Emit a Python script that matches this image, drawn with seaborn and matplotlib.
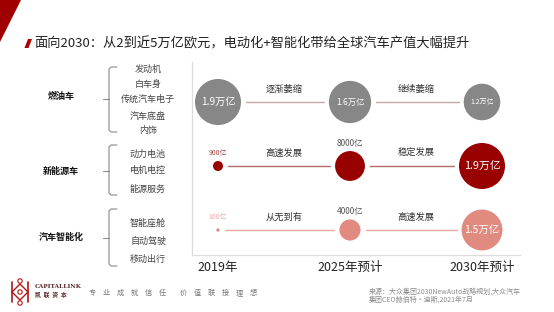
import matplotlib
matplotlib.use("Agg")
import numpy as np
import pandas as pd
import seaborn as sns
import matplotlib.pyplot as plt
from matplotlib.patches import Polygon

# ---------------- data ----------------
years = ["2019年", "2025年预计", "2030年预计"]
segments = ["燃油车", "新能源车", "汽车智能化"]
sub_items = [
    ["发动机", "白车身", "传统汽车电子", "汽车底盘", "内饰"],
    ["动力电池", "电机电控", "能源服务"],
    ["智能座舱", "自动驾驶", "移动出行"],
]
# output value, in 万亿欧元
ice_values = [1.9, 1.6, 1.2]
nev_values = [0.09, 0.8, 1.9]
smart_values = [0.01, 0.4, 1.5]
ice_labels = ["1.9万亿", "1.6万亿", "1.2万亿"]
nev_labels = ["900亿", "8000亿", "1.9万亿"]
smart_labels = ["100亿", "4000亿", "1.5万亿"]
ice_trends = ["逐渐萎缩", "继续萎缩"]
nev_trends = ["高速发展", "稳定发展"]
smart_trends = ["从无到有", "高速发展"]
title = "面向2030：从2到近5万亿欧元，电动化+智能化带给全球汽车产值大幅提升"
source_lines = ["来源：大众集团2030NewAuto战略规划,大众汽车", "集团CEO赫伯特·迪斯,2021年7月"]
slogan = ["专业成就信任", "价值联接理想"]

all_values = [ice_values, nev_values, smart_values]
all_labels = [ice_labels, nev_labels, smart_labels]
all_trends = [ice_trends, nev_trends, smart_trends]

rows = []
for r, seg in enumerate(segments):
    for c, yr in enumerate(years):
        rows.append(dict(year=c, seg=r, segname=seg, value=all_values[r][c], label=all_labels[r][c]))
df = pd.DataFrame(rows)

# ---------------- style ----------------
row_colors = ["#878787", "#990000", "#e08a80"]
line_colors = ["#c4a8a8", "#b46a6a", "#e6aaa2"]
above_colors = ["#555555", "#a04848", "#e8a8a8"]
inner_fs = [[7.3, 6.0, 5.0], [7.5, 7.5, 7.8], [7.5, 7.5, 7.5]]

sns.set_theme(style="white")
plt.rcParams["font.family"] = ["Noto Sans CJK SC", "DejaVu Sans"]

W, H, DPI = 554, 312, 100
fig = plt.figure(figsize=(W / DPI, H / DPI), dpi=DPI)
fig.patch.set_facecolor("white")

# overlay in pixel coordinates for decorative text
ov = fig.add_axes([0, 0, 1, 1])
ov.set_xlim(0, W)
ov.set_ylim(H, 0)
ov.axis("off")
ov.patch.set_alpha(0)

# main data axes: pixel box x 192..520, y 62..255
ax = fig.add_axes([192 / W, (H - 255) / H, 328 / W, 193 / H])
PXX, PXY = 132.0, 64.0
x0px, y0px = 218.0, 102.0
ax.set_xlim((192 - x0px) / PXX, (520 - x0px) / PXX)
ax.set_ylim((255 - y0px) / PXY, (62 - y0px) / PXY)
ax.patch.set_alpha(0)

SMAX = 578 * 1.9  # area (pt^2) for 1.9万亿
sns.scatterplot(data=df, x="year", y="seg", size="value", sizes=(0, SMAX), size_norm=(0, 1.9),
                hue="segname", palette=row_colors, linewidth=0, legend=False, ax=ax, zorder=3)

def radius_px(v):
    return 16.7 * np.sqrt(v)

for r in range(3):
    vals = all_values[r]
    for c in range(2):
        xs = c + (radius_px(vals[c]) + 5) / PXX
        xe = c + 1 - (radius_px(vals[c + 1]) + 5) / PXX
        ax.plot([xs, xe], [r, r], color=line_colors[r], lw=1.0, zorder=2)
        ax.annotate(all_trends[r][c], (c + 0.5, r), xytext=(0, 13), textcoords="offset pixels",
                    ha="center", va="center", fontsize=6.7, color="#333333")
    for c in range(3):
        v = vals[c]
        if v >= 1.0:
            ax.annotate(all_labels[r][c], (c, r), ha="center", va="center",
                        fontsize=inner_fs[r][c], color="white", zorder=4)
        else:
            off = max(radius_px(v) + 8, 13)
            col = above_colors[r] if c == 0 else "#555555"
            fs = 5.0 if c == 0 else 6.0
            ax.annotate(all_labels[r][c], (c, r), xytext=(0, off), textcoords="offset pixels",
                        ha="center", va="center", fontsize=fs, color=col)

ax.set_xticks(range(3))
ax.set_xticklabels(years, fontsize=9.0, color="#222222")
ax.set_yticks([])
ax.tick_params(axis="x", length=0, pad=4.5)
ax.set_xlabel("")
ax.set_ylabel("")
for s in ["top", "right"]:
    ax.spines[s].set_visible(False)
for s in ["left", "bottom"]:
    ax.spines[s].set_color("#dcdcdc")
    ax.spines[s].set_linewidth(0.9)

# ---------------- decorations ----------------
ov.add_patch(Polygon([(0, 0), (21, 0), (0, 42)], closed=True, color="#a00000", lw=0))
ov.add_patch(Polygon([(28, 39), (32, 39), (28.5, 48), (24.5, 48)], closed=True, color="#b00000", lw=0))
ov.text(34, 44, title, fontsize=9.5, color="#222222", ha="left", va="center")

cat_y = [96, 171, 237]
item_y = [[69, 84, 99, 116, 131], [154, 171, 189], [223, 241, 259]]
brace = [(67, 132, 99), (145, 195, 171), (209, 266, 238)]
for i, seg in enumerate(segments):
    ov.text(61, cat_y[i], seg, fontsize=6.5, fontweight="bold", color="#111111", ha="center", va="center")
    for t, yy in zip(sub_items[i], item_y[i]):
        ov.text(148, yy, t, fontsize=6.5, color="#444444", ha="center", va="center")
    top, bot, tip = brace[i]
    ov.plot([117, 111, 109, 109, 111, 117], [top, top, top + 2, bot - 2, bot, bot], color="#8a8a8a", lw=0.8)
    ov.plot([109, 103], [tip, tip], color="#8a8a8a", lw=0.8)

for k, line in enumerate(source_lines):
    ov.text(369, 292 + 8 * k, line, fontsize=5.0, color="#8c8c8c", ha="left", va="center")

# slogan
for j, grp in enumerate(slogan):
    x_start = 92 if j == 0 else 183
    for n, ch in enumerate(grp):
        ov.text(x_start + n * 14, 293, ch, fontsize=5.2, color="#777777", ha="center", va="center")

# logo
red = "#b01818"
ov.plot([12, 12], [282, 302], color=red, lw=1.2)
ov.plot([12, 20, 28], [292, 284, 292], color=red, lw=1.0)
ov.plot([12, 20, 28], [292, 300, 292], color=red, lw=1.0)
ov.plot([28, 28], [282, 302], color=red, lw=1.2)
for (cx, cy) in [(20, 281), (20, 303), (20, 292)]:
    ov.scatter([cx], [cy], s=10, facecolors="none", edgecolors=red, linewidths=0.8)
ov.text(35, 287, "CAPITALLINK", fontsize=4.2, family="DejaVu Serif", fontweight="bold", color="#5a2a2a", ha="left", va="center")
ov.text(35, 295, "凯  联  资  本", fontsize=4.2, fontweight="bold", color="#5a2a2a", ha="left", va="center")

fig.savefig("out.png", dpi=DPI, facecolor="white")
